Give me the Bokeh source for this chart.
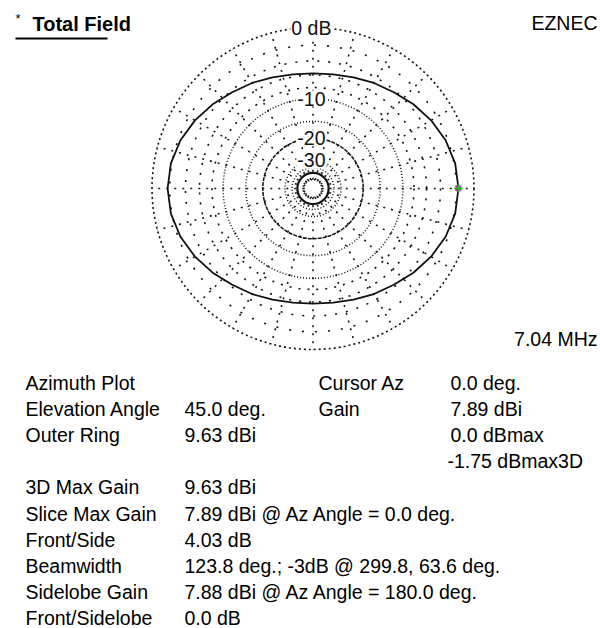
import numpy as np
from bokeh.plotting import figure
from bokeh.models import Range1d, Label, ColumnDataSource
from bokeh.core.properties import value
from bokeh.embed import file_html
from bokeh.resources import INLINE

# ---------------- data ----------------
az_deg = [0, 10, 20, 30, 40, 50, 60, 70, 80, 90, 100, 110, 120, 130, 140, 150, 160, 170,
          180, 190, 200, 210, 220, 230, 240, 250, 260, 270, 280, 290, 300, 310, 320, 330, 340, 350]
gain_dbi = [7.89, 7.76, 7.37, 6.78, 6.10, 5.38, 4.85, 4.35, 4.00, 3.86, 4.00, 4.35, 4.85, 5.38, 6.09, 6.77, 7.36, 7.75,
            7.88, 7.75, 7.36, 6.77, 6.09, 5.38, 4.85, 4.35, 4.00, 3.86, 4.00, 4.35, 4.85, 5.38, 6.10, 6.78, 7.37, 7.76]
outer_ring_dbi = 9.63
cursor_az = 0.0
cursor_gain = 7.89

ring_db = [0, -2, -4, -6, -8, -10, -15, -20, -30, -35, -40, -50]
ring_label_db = [0, -10, -20, -30]
ring_label_text = ["0 dB", "-10", "-20", "-30"]
spoke_deg = list(range(0, 360, 15))

left_labels = ["Azimuth Plot", "Elevation Angle", "Outer Ring", "", "3D Max Gain", "Slice Max Gain",
               "Front/Side", "Beamwidth", "Sidelobe Gain", "Front/Sidelobe"]
left_values = ["", "45.0 deg.", "9.63 dBi", "", "9.63 dBi", "7.89 dBi @ Az Angle = 0.0 deg.",
               "4.03 dB", "123.8 deg.; -3dB @ 299.8, 63.6 deg.", "7.88 dBi @ Az Angle = 180.0 deg.", "0.0 dB"]
right_labels = ["Cursor Az", "Gain", "", ""]
right_values = ["0.0 deg.", "7.89 dBi", "0.0 dBmax", "-1.75 dBmax3D"]
title_text = "Total Field"
program_text = "EZNEC"
freq_text = "7.04 MHz"

# ---------------- layout helpers ----------------
W, H = 600, 628
CX, CY, S = 312.5, 188.0, 161.0   # page px of polar centre, px per unit radius


def px_x(x):
    return (x - CX) / S


def px_y(y):
    return (CY - y) / S


def arrl(db):
    # ARRL log scale: radius factor 0.89 per 2 dB
    return 0.89 ** (-np.asarray(db, dtype=float) / 2.0)


FONT_NAME = "Liberation Sans"
FONT = value(FONT_NAME)
FS = "19.5px"

p = figure(width=W, height=H, output_backend="svg", toolbar_location=None,
           x_range=Range1d(px_x(0), px_x(W)), y_range=Range1d(px_y(H), px_y(0)),
           x_axis_type=None, y_axis_type=None, min_border=0)
p.grid.visible = False
p.outline_line_color = None
p.background_fill_color = "white"
p.border_fill_color = "white"

# ---------------- polar grid ----------------
r_in = float(arrl(-50))
sx, sy = [], []
for a in spoke_deg:
    t = np.deg2rad(a)
    sx.append([r_in * np.cos(t), np.cos(t)])
    sy.append([r_in * np.sin(t), np.sin(t)])
p.multi_line(sx, sy, line_color="#1a1a1a", line_width=1.6, line_dash="2 6")


def sparse_dash(db):
    # dots roughly every 5 degrees of arc
    gap = int(round(float(arrl(db)) * S * np.deg2rad(5.0) - 2))
    return "2 %d" % gap


ring_style = {0: ("2 3", 1.6), -2: (sparse_dash(-2), 1.6), -4: (sparse_dash(-4), 1.6),
              -6: (sparse_dash(-6), 1.6), -8: (sparse_dash(-8), 1.6), -10: ("1 2", 1.5),
              -15: ("1 2", 1.5), -20: ("4 1", 1.5), -30: ("1 2", 1.5), -35: ("1 2", 1.5),
              -40: ("solid", 2.2), -50: ("1 2", 1.5)}
for db in ring_db:
    dash, lw = ring_style[db]
    p.circle(x=[0], y=[0], radius=float(arrl(db)), fill_color=None, line_color="#111111",
             line_width=lw, line_dash=dash)

# ---------------- pattern ----------------
rel = np.array(gain_dbi) - outer_ring_dbi
r = arrl(rel)
th = np.deg2rad(np.array(az_deg, dtype=float))
px = list(r * np.cos(th)) + [r[0] * np.cos(th[0])]
py = list(r * np.sin(th)) + [r[0] * np.sin(th[0])]
p.line(px, py, line_color="#111111", line_width=1.8)

# cursor marker
rc = float(arrl(cursor_gain - outer_ring_dbi))
tc = np.deg2rad(cursor_az)
p.scatter([rc * np.cos(tc)], [rc * np.sin(tc)], marker="x", size=7, line_color="#ff00ff", line_width=1.5)
p.scatter([rc * np.cos(tc)], [rc * np.sin(tc)], marker="cross", size=8, line_color="#00c000", line_width=2)

# ring labels
for db, txt in zip(ring_label_db, ring_label_text):
    p.add_layout(Label(x=-0.01, y=float(arrl(db)), text=txt, text_align="center", text_baseline="middle",
                       text_font=FONT_NAME, text_font_size=FS, text_color="#111111",
                       background_fill_color="white", padding=1))

# ---------------- header ----------------
p.add_layout(Label(x=px_x(32), y=px_y(23), text=title_text, text_font=FONT_NAME, text_font_size="20px",
                   text_font_style="bold", text_baseline="middle", text_color="black"))
p.add_layout(Label(x=px_x(15), y=px_y(18), text="*", text_font=FONT_NAME, text_font_size="13px",
                   text_baseline="middle", text_color="black"))
p.line([px_x(15), px_x(107)], [px_y(38), px_y(38)], line_color="black", line_width=2)
p.add_layout(Label(x=px_x(597), y=px_y(22), text=program_text, text_font=FONT_NAME, text_font_size=FS,
                   text_align="right", text_baseline="middle", text_color="black"))
p.add_layout(Label(x=px_x(597), y=px_y(338), text=freq_text, text_font=FONT_NAME, text_font_size=FS,
                   text_align="right", text_baseline="middle", text_color="black"))

# ---------------- info block ----------------
row0, dy = 382.0, 26.2
rows_y = [px_y(row0 + i * dy) for i in range(len(left_labels))]
src_l = ColumnDataSource(dict(x=[px_x(25)] * len(left_labels), y=rows_y, t=left_labels))
src_v = ColumnDataSource(dict(x=[px_x(184)] * len(left_values), y=rows_y, t=left_values))
src_rl = ColumnDataSource(dict(x=[px_x(318)] * len(right_labels), y=rows_y[:len(right_labels)], t=right_labels))
rv_x = [px_x(450), px_x(450), px_x(450), px_x(447)]
src_rv = ColumnDataSource(dict(x=rv_x, y=rows_y[:len(right_values)], t=right_values))
for src in (src_l, src_v, src_rl, src_rv):
    p.text(x="x", y="y", text="t", source=src, text_font=FONT, text_font_size=FS,
           text_baseline="middle", text_align="left", text_color="black")

open("out.html", "w").write(file_html(p, INLINE))
